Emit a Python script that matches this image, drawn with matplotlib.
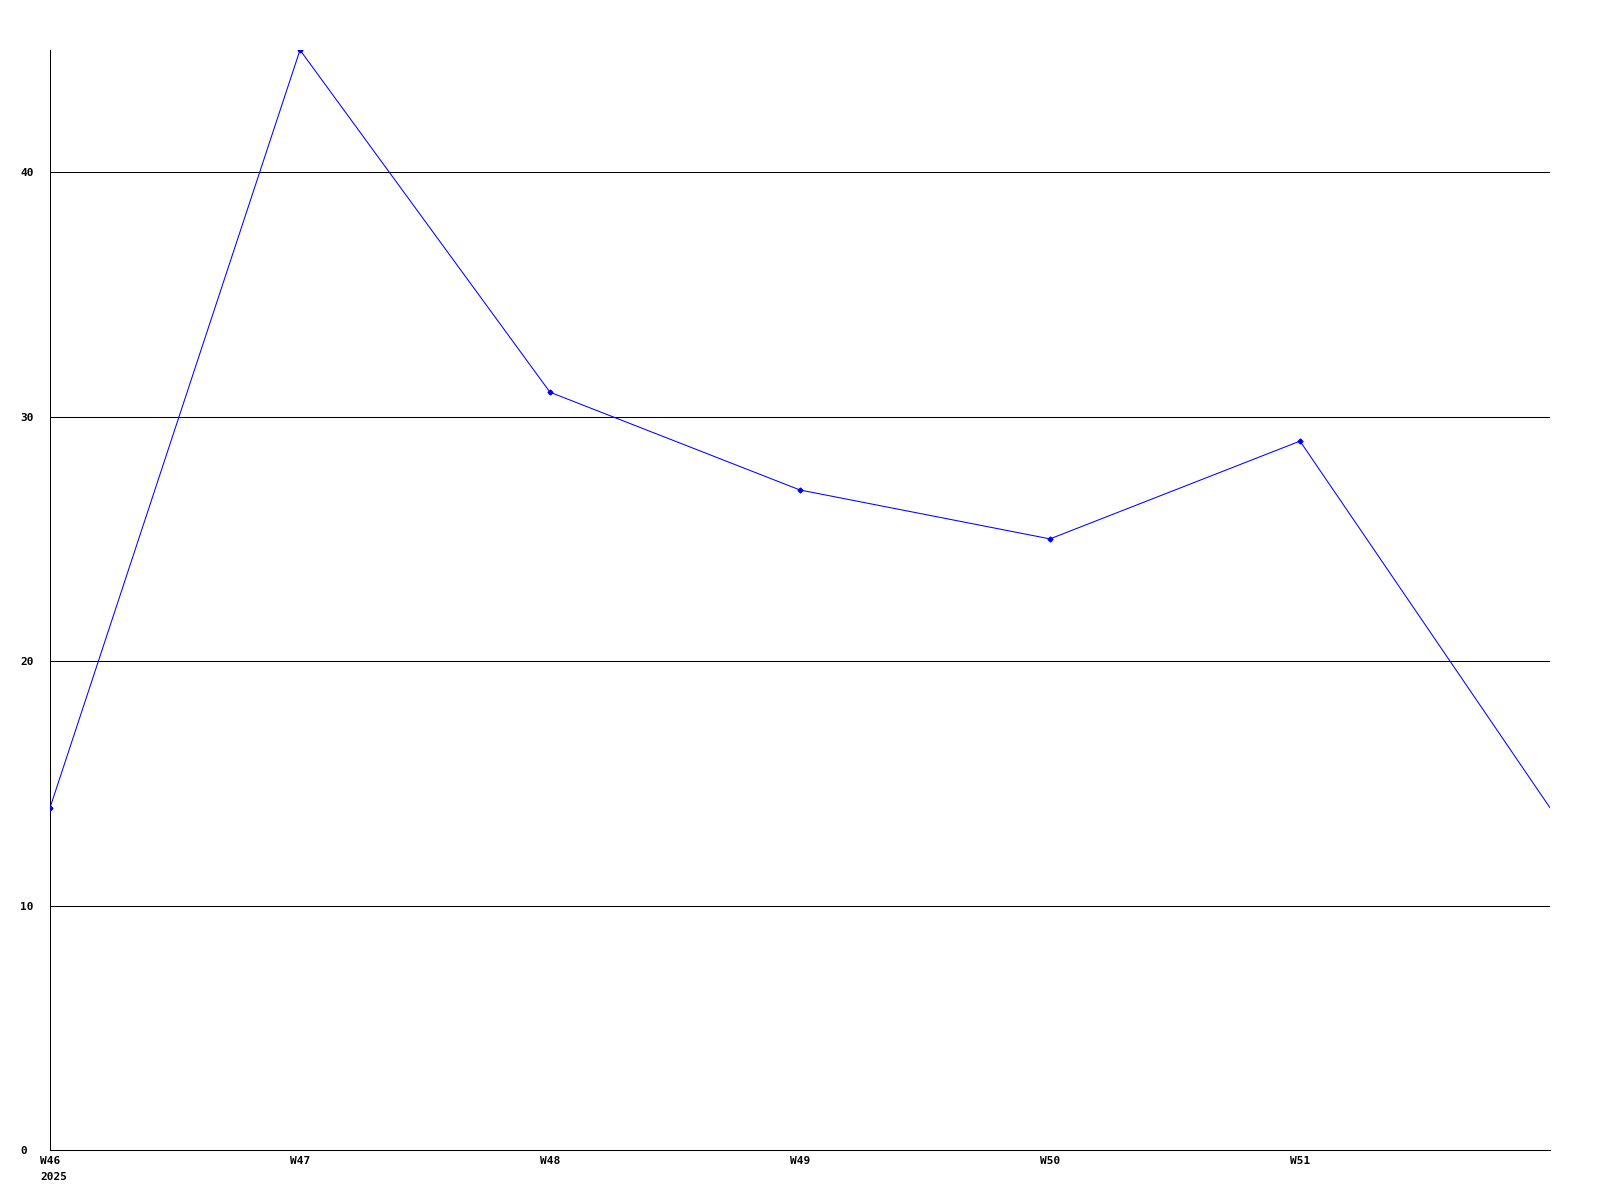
import matplotlib
matplotlib.use("Agg")
import matplotlib.pyplot as plt
from matplotlib.transforms import offset_copy

weeks = ["W46", "W47", "W48", "W49", "W50", "W51", ""]
year_label = "2025"
values = [14, 45, 31, 27, 25, 29, 14]
yticks = [0, 10, 20, 30, 40]

fig = plt.figure(figsize=(16, 12), dpi=100)
ax = fig.add_axes([50/1600, 50/1200, 1500/1600, 1100/1200])
x = list(range(len(values)))
ax.plot(x, values, color="#0000ff", linewidth=0.75, marker="D", markersize=2.5,
        markerfacecolor="#0000ff", markeredgecolor="#0000ff", zorder=3,
        markevery=list(range(len(values) - 1)))
ax.set_xlim(0, len(values) - 1)
ax.set_ylim(0, 45)
ax.set_yticks(yticks)
ax.set_yticklabels([str(v) for v in yticks], ha="left")
ax.set_xticks(x)
ax.set_xticklabels(weeks, ha="center", va="top")
for v in yticks[1:]:
    ax.axhline(v, color="black", linewidth=0.75, zorder=1)
for s in ["top", "right"]:
    ax.spines[s].set_visible(False)
for s in ["left", "bottom"]:
    ax.spines[s].set_linewidth(0.75)
    ax.spines[s].set_color("black")
ax.tick_params(axis="both", length=0, labelsize=8)
ax.tick_params(axis="y", pad=21.6)
ax.tick_params(axis="x", pad=4)
for lab in ax.get_xticklabels() + ax.get_yticklabels():
    lab.set_fontfamily("DejaVu Sans Mono")
    lab.set_fontweight("bold")

trans = offset_copy(ax.get_xaxis_transform(), fig=fig, x=-10, y=-22, units="dots")
ax.text(0, 0, year_label, transform=trans, ha="left", va="top", fontsize=8,
        fontfamily="DejaVu Sans Mono", fontweight="bold", clip_on=False)

fig.savefig("out.png", dpi=100, facecolor="white")
